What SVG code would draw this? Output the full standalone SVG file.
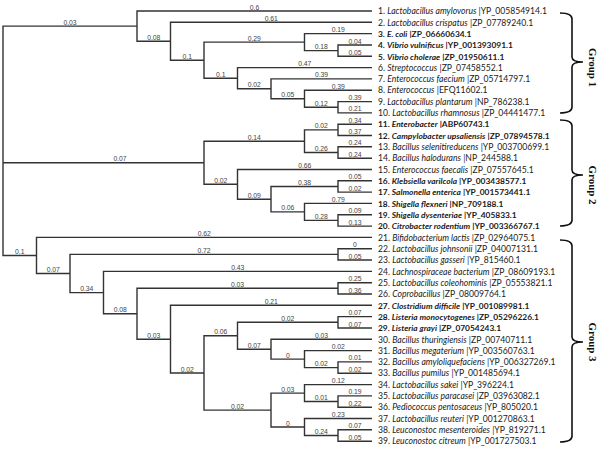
<svg xmlns="http://www.w3.org/2000/svg" width="600" height="450" viewBox="0 0 600 450">
<style>
.br{fill:none;stroke:#333;stroke-width:1.4;stroke-linejoin:miter}
.bl{font-family:"Liberation Sans",Arial,sans-serif;font-size:6.8px;fill:#444;text-anchor:middle}
.lf{font-family:Lato,"Liberation Sans",sans-serif;font-size:8.6px;fill:#1a1a1a}
.b{font-weight:bold;font-size:8.4px}
.i{font-style:italic}
.brace{fill:none;stroke:#111;stroke-width:1.6}
.grp{font-family:"Liberation Serif","Times New Roman",serif;font-weight:bold;font-size:11px;fill:#111;text-anchor:middle}
</style>
<rect width="600" height="450" fill="#fff"/>
<g id="connectors">
<path class="br" d="M137 26.1H3V255.5H36.5M3 162.8H204"/>
<path class="br" d="M372 11H137V41.3H170.5M372 22.3H170.5V60.2H204M304.5 42.1H204V78.2H237.5M372 33.6H304.5V50.6H338M372 45H338V56.3H372M372 67.6H237.5V88.8H271M372 78.9H271V98.7H304.5M372 90.2H304.5V107.2H338M372 101.6H338V112.9H372"/>
<path class="br" d="M304.5 141.2H204V184.3H237.5M338 129.9H304.5V152.5H338M372 124.2H338V135.5H372M372 146.8H338V158.2H372M372 169.5H237.5V199.2H271M338 186.5H271V211.9H304.5M372 180.8H338V192.1H372M372 203.4H304.5V220.4H338M372 214.8H338V226.1H372"/>
<path class="br" d="M372 237.4H36.5V273.5H70M338 254.4H70V292.6H103.5M372 248.7H338V260H372M372 271.4H103.5V313.8H137M338 288.3H137V339.2H170.5M372 282.7H338V294H372M372 305.3H170.5V373H204M237.5 335.8H204V410.1H271M338 322.3H237.5V349.2H271M372 316.6H338V328H372M372 339.3H271V359.1H304.5M372 350.6H304.5V367.6H338M372 361.9H338V373.2H372M304.5 393.1H271V427H304.5M372 384.6H304.5V401.5H338M372 395.9H338V407.2H372M372 418.5H304.5V435.5H338M372 429.8H338V441.2H372"/>
</g>
<g id="branch-lengths">
<text class="bl" x="70" y="24.6">0.03</text>
<text class="bl" x="120" y="161.3">0.07</text>
<text class="bl" x="19.8" y="254">0.1</text>
<text class="bl" x="254.5" y="9.5">0.6</text>
<text class="bl" x="153.8" y="39.8">0.08</text>
<text class="bl" x="271.3" y="20.8">0.61</text>
<text class="bl" x="187.3" y="58.7">0.1</text>
<text class="bl" x="254.3" y="40.6">0.29</text>
<text class="bl" x="220.8" y="76.7">0.1</text>
<text class="bl" x="338.3" y="32.1">0.19</text>
<text class="bl" x="321.3" y="49.1">0.18</text>
<text class="bl" x="355" y="43.5">0.04</text>
<text class="bl" x="355" y="54.8">0.05</text>
<text class="bl" x="304.8" y="66.1">0.47</text>
<text class="bl" x="254.3" y="87.3">0.02</text>
<text class="bl" x="321.5" y="77.4">0.39</text>
<text class="bl" x="287.8" y="97.2">0.05</text>
<text class="bl" x="338.3" y="88.7">0.39</text>
<text class="bl" x="321.3" y="105.7">0.12</text>
<text class="bl" x="355" y="100.1">0.39</text>
<text class="bl" x="355" y="111.4">0.21</text>
<text class="bl" x="254.3" y="139.7">0.14</text>
<text class="bl" x="220.8" y="182.8">0.02</text>
<text class="bl" x="321.3" y="128.4">0.02</text>
<text class="bl" x="321.3" y="151">0.26</text>
<text class="bl" x="355" y="122.7">0.34</text>
<text class="bl" x="355" y="134">0.37</text>
<text class="bl" x="355" y="145.3">0.24</text>
<text class="bl" x="355" y="156.7">0.24</text>
<text class="bl" x="304.8" y="168">0.66</text>
<text class="bl" x="254.3" y="197.7">0.09</text>
<text class="bl" x="304.5" y="185">0.38</text>
<text class="bl" x="287.8" y="210.4">0.06</text>
<text class="bl" x="355" y="179.3">0.05</text>
<text class="bl" x="355" y="190.6">0.02</text>
<text class="bl" x="338.3" y="201.9">0.79</text>
<text class="bl" x="321.3" y="218.9">0.28</text>
<text class="bl" x="355" y="213.3">0.09</text>
<text class="bl" x="355" y="224.6">0.13</text>
<text class="bl" x="204.3" y="235.9">0.62</text>
<text class="bl" x="53.3" y="272">0.07</text>
<text class="bl" x="204" y="252.9">0.72</text>
<text class="bl" x="86.8" y="291.1">0.34</text>
<text class="bl" x="355" y="247.2">0</text>
<text class="bl" x="355" y="258.5">0.05</text>
<text class="bl" x="237.8" y="269.9">0.43</text>
<text class="bl" x="120.3" y="312.3">0.08</text>
<text class="bl" x="237.5" y="286.8">0.03</text>
<text class="bl" x="153.8" y="337.7">0.03</text>
<text class="bl" x="355" y="281.2">0.25</text>
<text class="bl" x="355" y="292.5">0.36</text>
<text class="bl" x="271.3" y="303.8">0.21</text>
<text class="bl" x="187.3" y="371.5">0.02</text>
<text class="bl" x="220.8" y="334.3">0.06</text>
<text class="bl" x="237.5" y="408.6">0.02</text>
<text class="bl" x="287.8" y="320.8">0.02</text>
<text class="bl" x="254.3" y="347.7">0.07</text>
<text class="bl" x="355" y="315.1">0.07</text>
<text class="bl" x="355" y="326.5">0.07</text>
<text class="bl" x="321.5" y="337.8">0.03</text>
<text class="bl" x="287.8" y="357.6">0</text>
<text class="bl" x="338.3" y="349.1">0.02</text>
<text class="bl" x="321.3" y="366.1">0.02</text>
<text class="bl" x="355" y="360.4">0.01</text>
<text class="bl" x="355" y="371.7">0.02</text>
<text class="bl" x="287.8" y="391.6">0.03</text>
<text class="bl" x="287.8" y="425.5">0</text>
<text class="bl" x="338.3" y="383.1">0.12</text>
<text class="bl" x="321.3" y="400">0.01</text>
<text class="bl" x="355" y="394.4">0.19</text>
<text class="bl" x="355" y="405.7">0.22</text>
<text class="bl" x="338.3" y="417">0.23</text>
<text class="bl" x="321.3" y="434">0.24</text>
<text class="bl" x="355" y="428.3">0.07</text>
<text class="bl" x="355" y="439.7">0.05</text>
</g>
<g id="leaf-1"><text class="lf" x="378" y="14.2">1. <tspan class="i">Lactobacillus amylovorus</tspan> |YP_005854914.1</text></g>
<g id="leaf-2"><text class="lf" x="378" y="25.5">2. <tspan class="i">Lactobacillus crispatus</tspan> |ZP_07789240.1</text></g>
<g id="leaf-3"><text class="lf b" x="378" y="36.8">3. <tspan class="i">E. coli</tspan> |ZP_06660634.1</text></g>
<g id="leaf-4"><text class="lf b" x="378" y="48.2">4. <tspan class="i">Vibrio vulnificus</tspan> |YP_001393091.1</text></g>
<g id="leaf-5"><text class="lf b" x="378" y="59.5">5. <tspan class="i">Vibrio cholerae</tspan> |ZP_01950611.1</text></g>
<g id="leaf-6"><text class="lf" x="378" y="70.8">6. <tspan class="i">Streptococcus</tspan> |ZP_07458552.1</text></g>
<g id="leaf-7"><text class="lf" x="378" y="82.1">7. <tspan class="i">Enterococcus faecium</tspan> |ZP_05714797.1</text></g>
<g id="leaf-8"><text class="lf" x="378" y="93.4">8. <tspan class="i">Enterococcus</tspan> |EFQ11602.1</text></g>
<g id="leaf-9"><text class="lf" x="378" y="104.8">9. <tspan class="i">Lactobacillus plantarum</tspan> |NP_786238.1</text></g>
<g id="leaf-10"><text class="lf" x="378" y="116.1">10. <tspan class="i">Lactobacillus rhamnosus</tspan> |ZP_04441477.1</text></g>
<g id="leaf-11"><text class="lf b" x="378" y="127.4">11. <tspan class="i">Enterobacter</tspan> |ABP60743.1</text></g>
<g id="leaf-12"><text class="lf b" x="378" y="138.7">12. <tspan class="i">Campylobacter upsaliensis</tspan> |ZP_07894578.1</text></g>
<g id="leaf-13"><text class="lf" x="378" y="150">13. <tspan class="i">Bacillus selenitireducens</tspan> |YP_003700699.1</text></g>
<g id="leaf-14"><text class="lf" x="378" y="161.4">14. <tspan class="i">Bacillus halodurans</tspan> |NP_244588.1</text></g>
<g id="leaf-15"><text class="lf" x="378" y="172.7">15. <tspan class="i">Enterococcus faecalis</tspan> |ZP_07557645.1</text></g>
<g id="leaf-16"><text class="lf b" x="378" y="184">16. <tspan class="i">Klebsiella varilcola</tspan> |YP_003438577.1</text></g>
<g id="leaf-17"><text class="lf b" x="378" y="195.3">17. <tspan class="i">Salmonella enterica</tspan> |YP_001573441.1</text></g>
<g id="leaf-18"><text class="lf b" x="378" y="206.6">18. <tspan class="i">Shigella flexneri</tspan> |NP_709188.1</text></g>
<g id="leaf-19"><text class="lf b" x="378" y="218">19. <tspan class="i">Shigella dysenteriae</tspan> |YP_405833.1</text></g>
<g id="leaf-20"><text class="lf b" x="378" y="229.3">20. <tspan class="i">Citrobacter rodentium</tspan> |YP_003366767.1</text></g>
<g id="leaf-21"><text class="lf" x="378" y="240.6">21. <tspan class="i">Bifidobacterium lactis</tspan> |ZP_02964075.1</text></g>
<g id="leaf-22"><text class="lf" x="378" y="251.9">22. <tspan class="i">Lactobacillus johnsonii</tspan> |ZP_04007131.1</text></g>
<g id="leaf-23"><text class="lf" x="378" y="263.2">23. <tspan class="i">Lactobacillus gasseri</tspan> |YP_815460.1</text></g>
<g id="leaf-24"><text class="lf" x="378" y="274.6">24. <tspan class="i">Lachnospiraceae bacterium</tspan> |ZP_08609193.1</text></g>
<g id="leaf-25"><text class="lf" x="378" y="285.9">25. <tspan class="i">Lactobacillus coleohominis</tspan> |ZP_05553821.1</text></g>
<g id="leaf-26"><text class="lf" x="378" y="297.2">26. <tspan class="i">Coprobacillus</tspan> |ZP_08009764.1</text></g>
<g id="leaf-27"><text class="lf b" x="378" y="308.5">27. <tspan class="i">Clostridium difficile</tspan> |YP_001089981.1</text></g>
<g id="leaf-28"><text class="lf b" x="378" y="319.8">28. <tspan class="i">Listeria monocytogenes</tspan> |ZP_05296226.1</text></g>
<g id="leaf-29"><text class="lf b" x="378" y="331.2">29. <tspan class="i">Listeria grayi</tspan> |ZP_07054243.1</text></g>
<g id="leaf-30"><text class="lf" x="378" y="342.5">30. <tspan class="i">Bacillus thuringiensis</tspan> |ZP_00740711.1</text></g>
<g id="leaf-31"><text class="lf" x="378" y="353.8">31. <tspan class="i">Bacillus megaterium</tspan> |YP_003560763.1</text></g>
<g id="leaf-32"><text class="lf" x="378" y="365.1">32. <tspan class="i">Bacillus amyloliquefaciens</tspan> |YP_006327269.1</text></g>
<g id="leaf-33"><text class="lf" x="378" y="376.4">33. <tspan class="i">Bacillus pumilus</tspan> |YP_001485694.1</text></g>
<g id="leaf-34"><text class="lf" x="378" y="387.8">34. <tspan class="i">Lactobacillus sakei</tspan> |YP_396224.1</text></g>
<g id="leaf-35"><text class="lf" x="378" y="399.1">35. <tspan class="i">Lactobacillus paracasei</tspan> |ZP_03963082.1</text></g>
<g id="leaf-36"><text class="lf" x="378" y="410.4">36. <tspan class="i">Pediococcus pentosaceus</tspan> |YP_805020.1</text></g>
<g id="leaf-37"><text class="lf" x="378" y="421.7">37. <tspan class="i">Lactobacillus reuteri</tspan> |YP_001270863.1</text></g>
<g id="leaf-38"><text class="lf" x="378" y="433">38. <tspan class="i">Leuconostoc mesenteroides</tspan> |YP_819271.1</text></g>
<g id="leaf-39"><text class="lf" x="378" y="444.4">39. <tspan class="i">Leuconostoc citreum</tspan> |YP_001727503.1</text></g>
<g id="group-1">
<path class="brace" d="M560 13Q572 13 572 19V57Q572 62 583 62Q572 62 572 67V107Q572 113 560 113"/>
<text class="grp" transform="translate(588.5,67.5) rotate(90)">Group 1</text>
</g>
<g id="group-2">
<path class="brace" d="M560 120Q572 120 572 126V170Q572 175 583 175Q572 175 572 180V220Q572 226 560 226"/>
<text class="grp" transform="translate(588.5,185) rotate(90)">Group 2</text>
</g>
<g id="group-3">
<path class="brace" d="M560 240Q572 240 572 246V337Q572 342 583 342Q572 342 572 347V436Q572 442 560 442"/>
<text class="grp" transform="translate(588.5,342) rotate(90)">Group 3</text>
</g>
</svg>
